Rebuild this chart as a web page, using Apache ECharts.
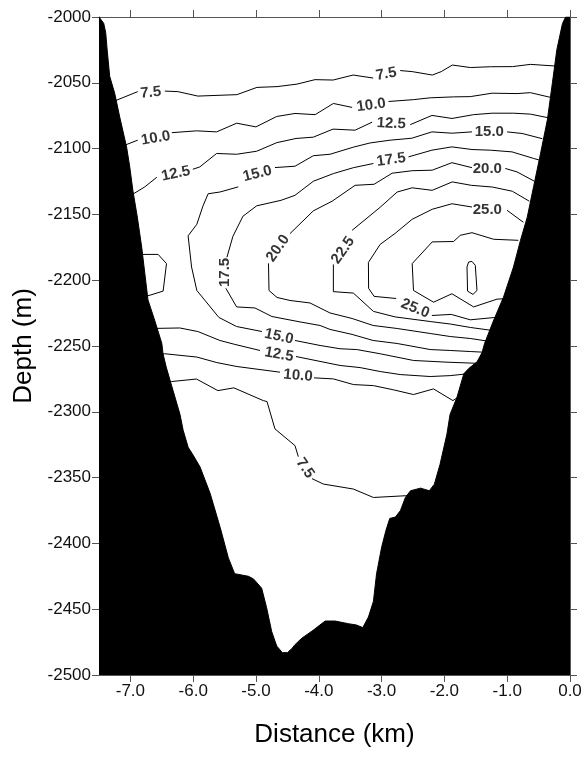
<!DOCTYPE html>
<html>
<head>
<meta charset="utf-8">
<script src="https://cdn.jsdelivr.net/npm/echarts@6/dist/echarts.min.js"></script>
<style>html,body{margin:0;padding:0;background:#fff;}#c{width:585px;height:758px;}</style>
</head>
<body>
<div id="c"></div>
<script>
// ---------- DATA (x = distance km, y = depth m) ----------
const xTicks = [-7, -6, -5, -4, -3, -2, -1, 0];

// Seafloor profile (black terrain)
const terrain = [
  [-7.5,-2000],[-7.425,-2004.8],[-7.393,-2012],[-7.37,-2025],[-7.33,-2045],[-7.25,-2058],
  [-7.17,-2076],[-7.06,-2099],[-7.01,-2114],[-6.96,-2132],[-6.89,-2152],[-6.82,-2175],
  [-6.77,-2195],[-6.72,-2215],[-6.61,-2231],[-6.50,-2248],[-6.48,-2256],[-6.43,-2266],
  [-6.32,-2284],[-6.21,-2302],[-6.16,-2314],[-6.08,-2327],[-6.00,-2333],[-5.89,-2342],
  [-5.73,-2362],[-5.57,-2388],[-5.44,-2411],[-5.34,-2423],[-5.12,-2425],[-5.04,-2427],
  [-4.91,-2434],[-4.83,-2449],[-4.75,-2467],[-4.67,-2478],[-4.58,-2483],[-4.50,-2483],
  [-4.43,-2480],[-4.38,-2477],[-4.27,-2472],[-4.09,-2466],[-3.90,-2459],[-3.74,-2459],
  [-3.53,-2461],[-3.40,-2462],[-3.30,-2464],[-3.21,-2456],[-3.13,-2444],[-3.08,-2423],
  [-3.00,-2403],[-2.93,-2390],[-2.87,-2381],[-2.78,-2380],[-2.70,-2375],[-2.62,-2365],
  [-2.54,-2360],[-2.38,-2358],[-2.24,-2360],[-2.16,-2355],[-2.07,-2340],[-1.96,-2317],
  [-1.91,-2302],[-1.80,-2289],[-1.69,-2271],[-1.61,-2267],[-1.48,-2262],[-1.40,-2255],
  [-1.36,-2248],[-1.22,-2231],[-1.06,-2213],[-0.90,-2190],[-0.79,-2170],[-0.68,-2152],
  [-0.58,-2129],[-0.47,-2104],[-0.36,-2078],[-0.28,-2050],[-0.21,-2025],[-0.12,-2005],
  [-0.07,-2000],[0,-2000]
];

// Temperature contours, each split into segments (gaps where labels sit)
const c7_5Upper = [
  [[-7.297,-2064.7],[-6.883,-2056.7]],
  [[-6.452,-2056.3],[-6.245,-2056.7],[-5.926,-2060.1],[-5.304,-2059.0],[-4.985,-2053.5],[-4.666,-2052.9],[-4.347,-2051.0],[-4.060,-2047.6],[-3.772,-2047.9],[-3.453,-2044.1],[-3.134,-2046.4]],
  [[-2.704,-2040.7],[-2.512,-2041.5],[-2.193,-2044.1],[-2.050,-2041.5],[-1.874,-2036.5],[-1.587,-2038.4],[-1.268,-2037.8],[-0.917,-2037.7],[-0.630,-2036.0],[-0.215,-2037.3]]
];
const c10Upper = [
  [[-7.170,-2098.9],[-6.883,-2093.6]],
  [[-6.340,-2087.9],[-5.946,-2086.5],[-5.627,-2087.3],[-5.308,-2080.7],[-5.001,-2083.5],[-4.670,-2075.6],[-4.379,-2073.3],[-4.058,-2074.2],[-3.768,-2065.7],[-3.469,-2068.7]],
  [[-2.890,-2064.2],[-2.492,-2062.8],[-2.225,-2061.4],[-1.854,-2060.7],[-1.587,-2060.5],[-1.241,-2057.9],[-0.843,-2058.2],[-0.630,-2057.5],[-0.263,-2061.6]]
];
const c12_5Upper = [
  [[-7.042,-2137.0],[-6.771,-2129.1],[-6.580,-2121.8]],
  [[-6.006,-2115.7],[-5.894,-2113.9],[-5.627,-2103.7],[-5.308,-2104.3],[-4.989,-2102.0],[-4.670,-2095.5],[-4.363,-2092.3],[-4.087,-2091.3],[-3.773,-2085.2],[-3.422,-2086.0],[-3.150,-2079.9]],
  [[-2.544,-2081.8],[-2.198,-2074.8],[-1.879,-2077.1],[-1.535,-2074.2],[-1.241,-2073.1],[-0.901,-2073.1],[-0.630,-2073.8],[-0.311,-2076.9]]
];
const c15 = [
  [[-0.439,-2092.5],[-0.763,-2088.5],[-1.002,-2087.3]],
  [[-1.561,-2087.3],[-1.880,-2088.3],[-2.199,-2087.3],[-2.518,-2092.1],[-2.864,-2093.6],[-3.183,-2095.7],[-3.449,-2098.9],[-3.821,-2104.3],[-4.087,-2105.4],[-4.379,-2113.4],[-4.698,-2114.4]],
  [[-5.283,-2129.1],[-5.575,-2133.0],[-5.762,-2134.3],[-5.846,-2143.8],[-5.942,-2157.5],[-6.081,-2166.3],[-6.026,-2190.0],[-5.942,-2207.8],[-5.591,-2228.3],[-5.309,-2235.2],[-4.905,-2239.0]],
  [[-4.379,-2245.8],[-3.980,-2249.6],[-3.661,-2252.1],[-3.395,-2252.7],[-3.023,-2255.9],[-2.492,-2261.0],[-1.959,-2262.3],[-1.396,-2263.3]]
];
const c17_5 = [
  [[-5.463,-2182.6],[-5.368,-2166.7],[-5.208,-2151.4],[-4.990,-2143.5],[-4.602,-2139.3],[-4.379,-2135.5],[-4.087,-2124.8],[-3.768,-2119.0],[-3.449,-2114.5],[-3.130,-2111.3]],
  [[-2.572,-2106.3],[-2.199,-2101.2],[-1.880,-2098.7],[-1.561,-2100.7],[-1.269,-2101.2],[-0.923,-2102.5],[-0.578,-2107.5],[-0.423,-2109.6]],
  [[-5.479,-2206.2],[-5.309,-2220.3],[-5.017,-2221.1],[-4.746,-2227.6],[-4.299,-2231.7],[-3.980,-2234.4],[-3.821,-2237.4],[-3.470,-2241.2],[-3.135,-2245.8],[-2.752,-2248.1],[-2.226,-2252.7],[-1.907,-2253.4],[-1.588,-2254.2],[-1.301,-2254.9]]
];
const c20 = [
  [[-0.567,-2124.8],[-0.843,-2117.7],[-1.030,-2115.1]],
  [[-1.561,-2114.5],[-1.880,-2110.7],[-2.194,-2116.4],[-2.513,-2116.8],[-2.832,-2118.7],[-3.119,-2127.1],[-3.422,-2127.9],[-3.789,-2140.0],[-4.087,-2147.3],[-4.459,-2164.6]],
  [[-4.801,-2187.2],[-4.793,-2207.8],[-4.666,-2213.1],[-4.459,-2215.4],[-4.140,-2217.3],[-3.821,-2224.9],[-3.470,-2229.1],[-3.135,-2234.4],[-2.752,-2236.7],[-2.226,-2240.5],[-1.907,-2242.8],[-1.588,-2244.3],[-1.269,-2246.6]]
];
const c22_5 = [
  [[-0.647,-2140.0],[-0.918,-2132.4],[-1.237,-2129.2],[-1.572,-2127.9],[-1.875,-2125.3],[-2.194,-2131.7],[-2.513,-2129.8],[-2.752,-2133.0],[-3.023,-2144.6],[-3.470,-2162.1]],
  [[-3.768,-2188.0],[-3.768,-2208.7],[-3.449,-2209.8],[-3.130,-2223.7],[-2.784,-2227.9],[-2.226,-2231.4],[-1.907,-2233.3],[-1.588,-2235.9],[-1.237,-2238.2]]
];
const c25 = [
  [[-0.742,-2156.0],[-1.002,-2146.9]],
  [[-1.561,-2144.4],[-1.880,-2141.9],[-2.194,-2146.1],[-2.513,-2153.7],[-2.784,-2164.4],[-3.023,-2172.8],[-3.210,-2186.5],[-3.207,-2206.2],[-3.119,-2212.3],[-2.768,-2213.9]],
  [[-2.199,-2226.8],[-1.891,-2226.0],[-1.588,-2230.1],[-1.189,-2228.3]]
];
const c27_5 = [
  [[-0.822,-2169.7],[-1.216,-2168.9],[-1.561,-2163.9],[-1.747,-2165.9],[-1.854,-2170.6],[-2.194,-2170.9],[-2.513,-2187.4],[-2.492,-2207.8],[-2.173,-2216.7],[-1.880,-2210.3],[-1.535,-2220.3],[-1.162,-2214.4],[-1.046,-2214.1]]
];
const c30 = [
  [[-1.615,-2186.2],[-1.561,-2185.7],[-1.508,-2188.7],[-1.481,-2207.8],[-1.545,-2210.8],[-1.631,-2208.3],[-1.640,-2190.0],[-1.615,-2186.2]]
];
const cWestPocket = [
  [[-6.835,-2180.4],[-6.559,-2180.4],[-6.425,-2187.4],[-6.479,-2208.3],[-6.703,-2211.6],[-6.755,-2212.3]]
];
const c12_5Lower = [
  [[-6.691,-2236.7],[-6.213,-2236.3],[-5.926,-2239.0],[-5.575,-2245.8],[-5.336,-2248.8],[-4.937,-2253.4]],
  [[-4.363,-2258.0],[-3.661,-2264.8],[-3.342,-2266.4],[-3.023,-2269.4],[-2.704,-2271.7],[-2.226,-2273.2],[-1.907,-2272.5],[-1.588,-2270.9]]
];
const c10Lower = [
  [[-6.564,-2256.5],[-6.452,-2255.9],[-5.942,-2258.4],[-5.623,-2262.6],[-5.304,-2265.6],[-4.618,-2269.9]],
  [[-4.076,-2274.2],[-3.768,-2275.0],[-3.449,-2279.3],[-3.130,-2280.1],[-2.811,-2283.3],[-2.492,-2286.9],[-2.173,-2282.6],[-1.864,-2291.5],[-1.747,-2287.7]]
];
const c7_5Lower = [
  [[-6.452,-2277.8],[-6.345,-2277.0],[-5.947,-2275.1],[-5.607,-2283.9],[-5.352,-2281.8],[-4.884,-2291.5],[-4.825,-2292.2],[-4.698,-2313.0],[-4.379,-2325.7],[-4.326,-2334.1]],
  [[-4.108,-2350.8],[-3.927,-2354.9],[-3.449,-2358.7],[-3.130,-2365.1],[-2.624,-2363.8],[-2.513,-2363.4]]
];

// Contour labels: [x, depth, text]
const contourLabels = [
  [-6.675,-2057.5,'7.5'],
  [-2.927,-2043.4,'7.5'],
  [-6.596,-2092.1,'10.0'],
  [-3.166,-2067.0,'10.0'],
  [-6.277,-2119.1,'12.5'],
  [-2.847,-2081.0,'12.5'],
  [-4.977,-2119.1,'15.0'],
  [-1.285,-2087.5,'15.0'],
  [-2.848,-2108.5,'17.5'],
  [-1.317,-2115.3,'20.0'],
  [-1.317,-2146.5,'25.0'],
  [-5.495,-2194.1,'17.5'],
  [-4.650,-2175.8,'20.0'],
  [-3.613,-2177.3,'22.5'],
  [-2.465,-2221.5,'25.0'],
  [-4.634,-2242.8,'15.0'],
  [-4.634,-2256.5,'12.5'],
  [-4.331,-2272.5,'10.0'],
  [-4.219,-2342.8,'7.5']
];

// ---------- RENDERING ----------
const labelRot = [5, 10, 10, 8, 12, -3, 14, 0, 8, 0, 0, 90, 55, 55, -22, -12, -10, -5, -55];
const FONT = 'Liberation Sans, Arial, sans-serif';

const contourSets = [c7_5Upper, c10Upper, c12_5Upper, c15, c17_5, c20, c22_5, c25, c27_5, c30,
                     cWestPocket, c12_5Lower, c10Lower, c7_5Lower];
const series = [];
contourSets.forEach(set => set.forEach(seg => {
  series.push({
    type: 'line', data: seg, symbol: 'none', silent: true, z: 2,
    lineStyle: { color: '#000', width: 1 }, animation: false
  });
}));
series.push({
  type: 'line', data: terrain, symbol: 'none', silent: true, z: 3,
  lineStyle: { color: '#000', width: 1 },
  areaStyle: { color: '#000', opacity: 1, origin: 'start' },
  animation: false
});
series.push({
  type: 'scatter', symbolSize: 0, silent: true, z: 4, animation: false,
  data: contourLabels.map((l, i) => ({ name: l[2], value: [l[0], l[1]], label: { rotate: labelRot[i] } })),
  label: { show: true, position: 'inside', formatter: '{b}', color: '#000',
           fontSize: 15, fontWeight: 'bold', fontFamily: FONT }
});

const axisLineStyle = { color: '#555', width: 1 };
const chart = echarts.init(document.getElementById('c'), null, { renderer: 'canvas' });
chart.setOption({
  animation: false,
  backgroundColor: '#fff',
  grid: { left: 99, right: 15, top: 17, bottom: 83, containLabel: false, outerBoundsMode: 'none' },
  xAxis: [
    {
      type: 'value', position: 'bottom', min: -7.5, max: 0,
      axisLine: { show: true, onZero: false, lineStyle: axisLineStyle },
      axisTick: { show: true, inside: false, length: 7, customValues: xTicks, lineStyle: axisLineStyle },
      axisLabel: { show: true, customValues: xTicks, margin: 8, fontSize: 17, color: '#111', fontFamily: FONT,
                   formatter: v => Number(v).toFixed(1) },
      splitLine: { show: false },
      name: 'Distance (km)', nameLocation: 'middle', nameGap: 47,
      nameTextStyle: { fontSize: 26, color: '#000', fontFamily: FONT }
    },
    {
      type: 'value', position: 'top', min: -7.5, max: 0,
      axisLine: { show: true, onZero: false, lineStyle: axisLineStyle },
      axisTick: { show: true, inside: false, length: 7, customValues: xTicks, lineStyle: axisLineStyle },
      axisLabel: { show: false },
      splitLine: { show: false }
    }
  ],
  yAxis: [
    {
      type: 'value', position: 'left', min: -2500, max: -2000, interval: 50,
      axisLine: { show: true, onZero: false, lineStyle: axisLineStyle },
      axisTick: { show: true, inside: false, length: 7, lineStyle: axisLineStyle },
      axisLabel: { show: true, margin: 8, fontSize: 17, color: '#111', fontFamily: FONT,
                   formatter: v => String(v) },
      splitLine: { show: false },
      name: 'Depth (m)', nameLocation: 'middle', nameGap: 62, nameRotate: 90,
      nameTextStyle: { fontSize: 26, color: '#000', fontFamily: FONT }
    },
    {
      type: 'value', position: 'right', min: -2500, max: -2000, interval: 50,
      axisLine: { show: true, onZero: false, lineStyle: axisLineStyle },
      axisTick: { show: true, inside: false, length: 7, lineStyle: axisLineStyle },
      axisLabel: { show: false },
      splitLine: { show: false }
    }
  ],
  series: series
});
</script>
</body>
</html>
